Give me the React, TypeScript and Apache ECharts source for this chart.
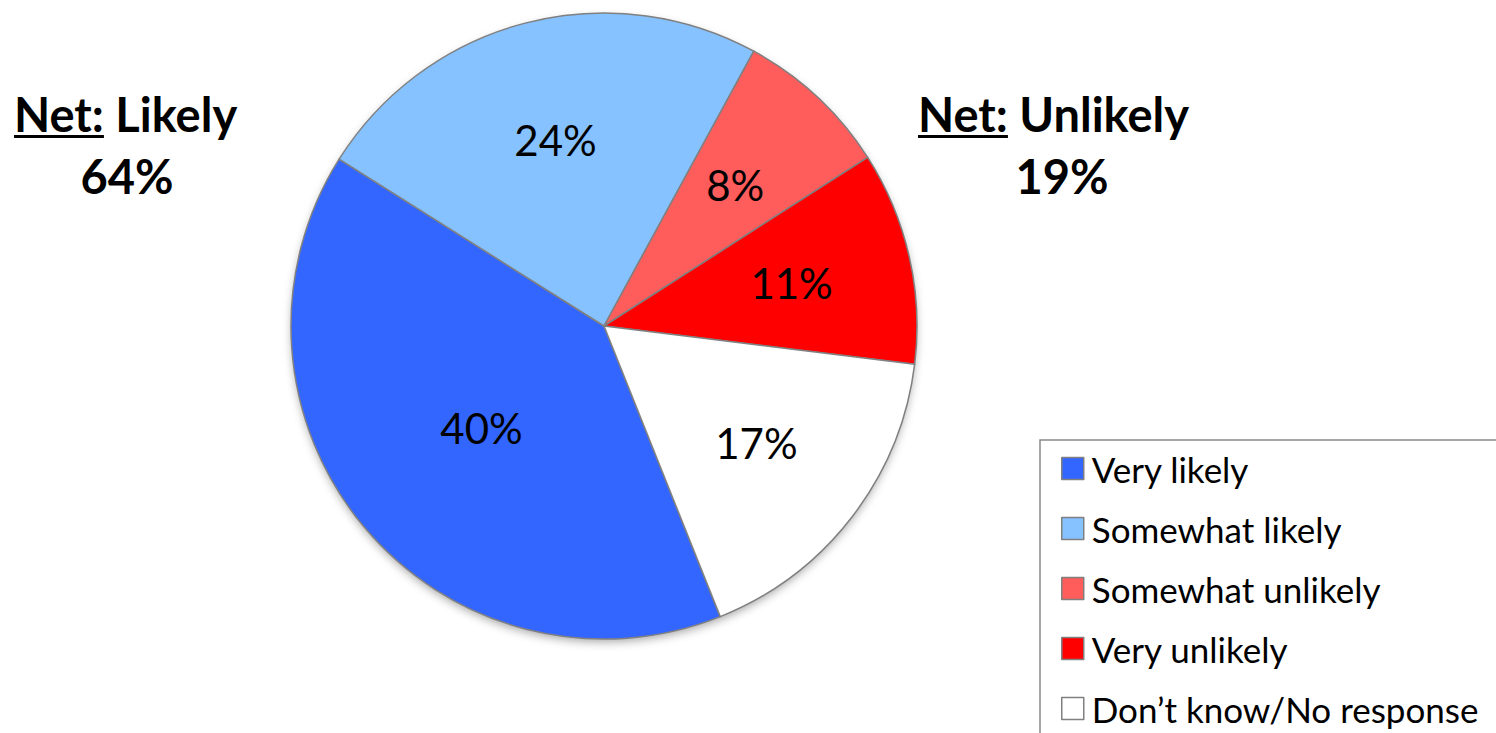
import React, { useEffect, useRef } from "react";
import * as echarts from "echarts";

const categories = [
  "Very likely",
  "Somewhat likely",
  "Somewhat unlikely",
  "Very unlikely",
  "Don\u2019t know/No response",
];
const values = [40, 24, 8, 11, 17];
const colors = ["#3366FF", "#85C2FF", "#FF5C5C", "#FF0000", "#FFFFFF"];
const netLikely = { label: "Likely", value: "64%" };
const netUnlikely = { label: "Unlikely", value: "19%" };

const FONT = "Lato, 'Open Sans', sans-serif";

function measure(text: string, font: string): number {
  const c = document.createElement("canvas").getContext("2d");
  if (!c) return 0;
  c.font = font;
  return c.measureText(text).width;
}

const CX = 604;
const CY = 326;
const R = 313;

export default function App() {
  const ref = useRef<HTMLDivElement>(null);
  useEffect(() => {
    if (!ref.current) return;
    const chart = echarts.init(ref.current, undefined, { renderer: "svg" });
    const netSize = 47;
    const netFont = `bold ${netSize}px Lato`;
    const netW = measure("Net:", netFont);
    const netY = 114;
    const pctY = 176;
    const ulY = 136.5;

    const netText = (x: number, label: string, pct: string, cx: number) => [
      {
        type: "text",
        x: x,
        y: netY,
        style: {
          text: "Net: " + label,
          font: netFont,
          fill: "#000",
          verticalAlign: "middle",
        },
      },
      {
        type: "line",
        shape: { x1: x, y1: ulY, x2: x + netW, y2: ulY },
        style: { stroke: "#000", lineWidth: 3 },
      },
      {
        type: "text",
        x: cx,
        y: pctY,
        style: {
          text: pct,
          font: netFont,
          fill: "#000",
          align: "center",
          verticalAlign: "middle",
        },
      },
    ];

    const labelStyle = {
      fontFamily: FONT,
      fontSize: 42,
      color: "#000",
    };

    chart.setOption({
      animation: false,
      backgroundColor: "#fff",
      legend: {
        orient: "vertical",
        left: 1040,
        top: 440,
        data: categories,
        icon: "rect",
        itemWidth: 22,
        itemHeight: 22,
        itemGap: 25,
        padding: [11, 200, 10, 21],
        borderColor: "#8a8a8a",
        borderWidth: 1.5,
        textStyle: {
          fontFamily: FONT,
          fontSize: 35,
          lineHeight: 35,
          color: "#000",
          padding: [0, 0, 0, 3],
        },
        itemStyle: { borderColor: "#808080", borderWidth: 1.5 },
      },
      series: [
        {
          type: "pie",
          center: [CX, CY],
          radius: R,
          startAngle: -68.2,
          clockwise: true,
          z: 2,
          data: categories.map((n, i) => ({
            name: n,
            value: values[i],
            itemStyle: { color: colors[i] },
            label: { show: i === 0 },
          })),
          itemStyle: { borderColor: "#808080", borderWidth: 1.5 },
          label: {
            show: true,
            position: "inside",
            formatter: (p: any) => `${p.value}%`,
            ...labelStyle,
          },
          labelLine: { show: false },
          emphasis: { disabled: true },
        },
        {
          type: "pie",
          center: [CX, CY],
          radius: [0, R * 1.21],
          startAngle: -68.2,
          clockwise: true,
          silent: true,
          z: 3,
          data: categories.map((n, i) => ({
            name: "label-" + i,
            value: values[i],
            itemStyle: { color: "rgba(0,0,0,0)", borderWidth: 0 },
            label: { show: i !== 0 },
          })),
          label: {
            show: true,
            position: "inside",
            formatter: (p: any) => `${p.value}%`,
            ...labelStyle,
          },
          labelLine: { show: false },
          emphasis: { disabled: true },
          tooltip: { show: false },
        },
      ],
      graphic: [
        {
          type: "circle",
          z: 1,
          shape: { cx: CX, cy: CY, r: R - 1 },
          style: {
            fill: "#fff",
            shadowBlur: 10,
            shadowOffsetY: 4,
            shadowColor: "rgba(0,0,0,0.35)",
          },
          silent: true,
        },
        ...netText(14, netLikely.label, netLikely.value, 127),
        ...netText(918, netUnlikely.label, netUnlikely.value, 1062),
      ],
    });
    return () => chart.dispose();
  }, []);
  return (
    <div
      ref={ref}
      style={{ position: "fixed", left: 0, top: 0, width: 1600, height: 900 }}
    />
  );
}
